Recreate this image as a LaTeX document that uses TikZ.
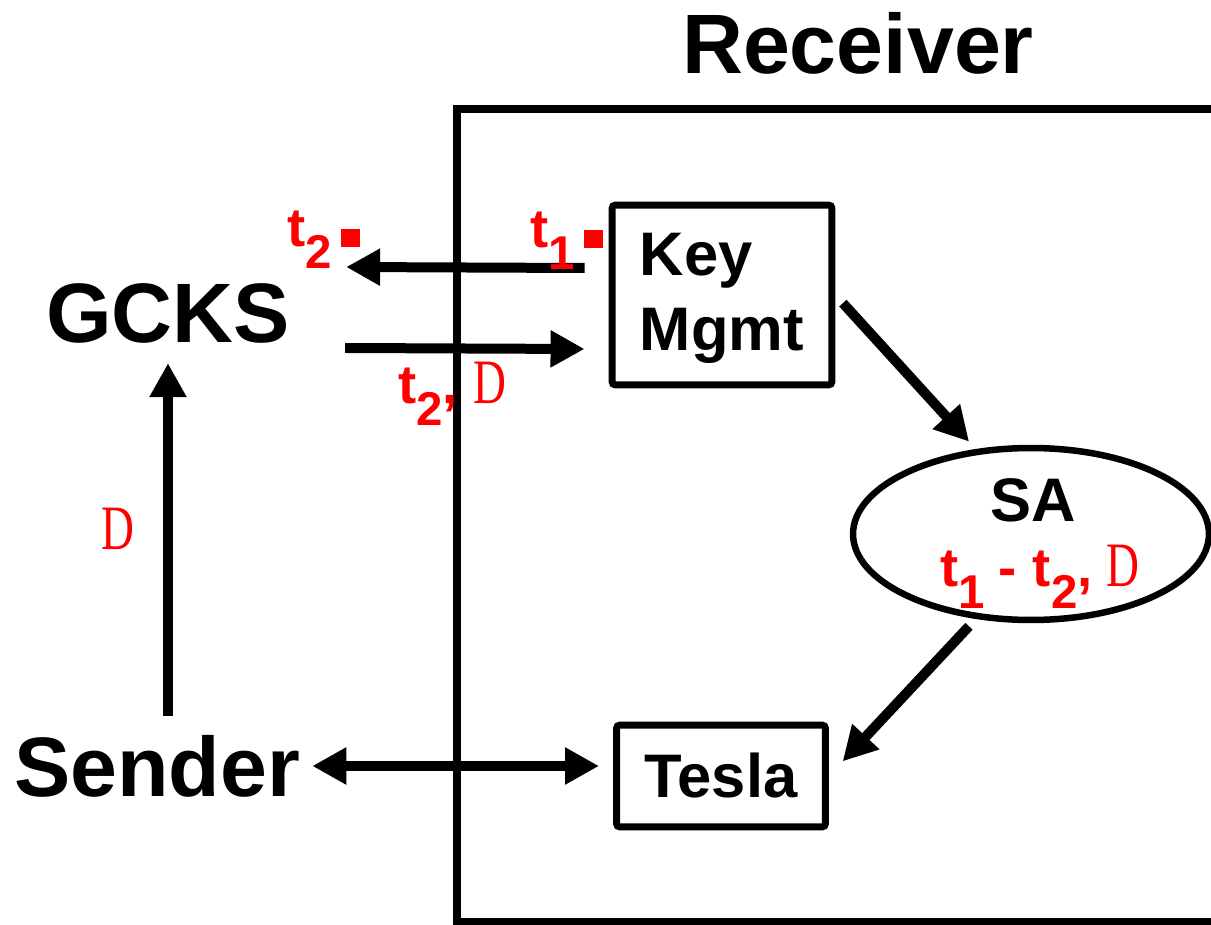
\documentclass[tikz,border=0pt]{standalone}
\usepackage{fontspec}
\setmainfont{Liberation Sans}
\newfontfamily\deltafont{Liberation Serif}
\usetikzlibrary{arrows.meta,calc,shapes.geometric}

% subscript, the serif D and the small square mark
\newcommand\sbs[1]{\raisebox{-12pt}{\fontsize{27}{27}\selectfont #1}}
\newcommand\dlt{{\deltafont\mdseries\fontsize{36}{36}\selectfont\scalebox{0.72}[1]{D}}}
\newcommand\sqmark{\hspace{5pt}\rule{11pt}{10pt}}

\tikzset{
  bigtxt/.style={font=\fontsize{48}{48}\selectfont\bfseries, inner sep=0pt},
  boxtxt/.style={font=\fontsize{35}{43}\selectfont\bfseries},
  redlbl/.style={text=red, font=\fontsize{31}{31}\selectfont\bfseries, inner sep=0pt},
  blockbox/.style={draw, line width=0.14cm, rounded corners=2pt},
  arr/.style={line width=0.2cm, -{Triangle[length=0.68cm,width=0.7cm]}},
  dblarr/.style={line width=0.2cm, {Triangle[length=0.68cm,width=0.7cm]}-{Triangle[length=0.68cm,width=0.7cm]}},
}

\begin{document}
\begin{tikzpicture}[x=0.02cm,y=-0.02cm]
  \useasboundingbox (0,0) rectangle (1211,925);
  \clip (0,0) rectangle (1211,925);

  % receiver side
  \node[bigtxt] (rcvtitle) at (858,43) {Receiver};
  \draw[line width=0.16cm] (1240,109) -- (457,109) -- (457,922) -- (1240,922);
  \node[blockbox, minimum width=4.4cm, minimum height=3.6cm] (keymgmt) at (722,295) {};
  \node[boxtxt, align=left, anchor=north west, inner sep=0pt] (keytxt)
    at ([shift={(31,31)}]keymgmt.north west) {Key\\Mgmt};
  \node[blockbox, boxtxt, minimum width=4.18cm, minimum height=2.04cm] (tesla) at (721,776) {Tesla};
  \node[draw, ellipse, line width=0.13cm, minimum width=7.12cm, minimum height=3.44cm] (sa) at (1031,534) {};
  \node[boxtxt, anchor=base, inner sep=0pt] (satxt) at (1033,522) {SA};

  % sender side
  \node[bigtxt] (gcks) at (168,313) {GCKS};
  \node[bigtxt] (sender) at (157,766) {Sender};

  % connectors
  \draw[arr] ([shift={(-24,-27)}]keymgmt.west) -- ([shift={(56,-46)}]gcks.east);
  \draw[arr] ([shift={(55,35)}]gcks.east) -- ([shift={(-24,54)}]keymgmt.west);
  \draw[arr] ($(sender.north -| gcks.south)+(0,-19)$) -- ($(gcks.south)+(0,20)$);
  \draw[dblarr] ($(sender.east)+(12,0)$) -- ($(sender.east -| tesla.west)+(-14,0)$);
  \draw[arr, shorten <=0.22cm, shorten >=0.2cm] (keymgmt.east) -- (sa.123);
  \draw[arr, shorten <=0.2cm, shorten >=0.4cm] (sa.237) -- (tesla.east);

  % timing labels
  \node[redlbl, anchor=base west] (tgcks) at (287,247) {t\sbs{2}\sqmark};
  \node[redlbl, anchor=base west] (tkey) at (530,248) {t\sbs{1}\sqmark};
  \node[redlbl, anchor=base west] (tdelta) at (398,404) {t\sbs{2}, \dlt};
  \node[redlbl, anchor=base] (dsend) at (118,550) {\dlt};
  \node[redlbl, anchor=base west] (tsa) at (940,587)
    {t\sbs{1}\hspace{8pt}-\hspace{9pt}t\sbs{2},\hspace{8pt}\dlt};
\end{tikzpicture}
\end{document}
